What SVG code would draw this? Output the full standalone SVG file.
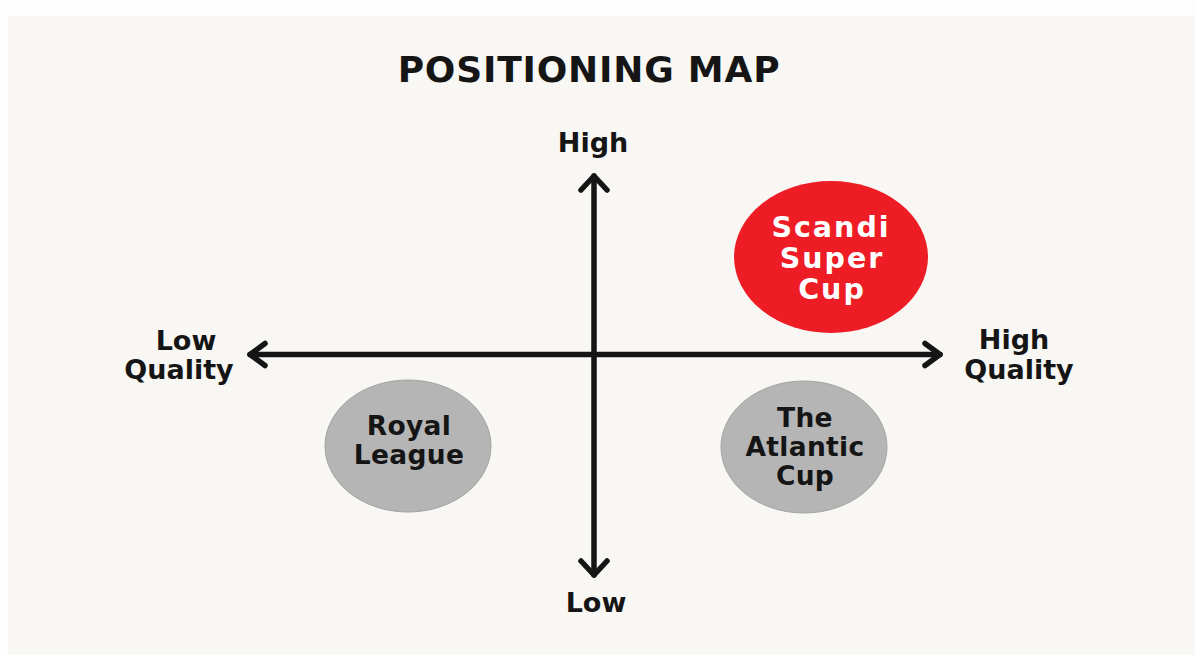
<svg xmlns="http://www.w3.org/2000/svg" width="1195" height="657" viewBox="0 0 1195 657">
<style>
.t{font-family:"DejaVu Sans","Liberation Sans",sans-serif;font-weight:bold;text-anchor:middle;fill:#151515}
.w{fill:#ffffff}
.ax{fill:none;stroke:#151515;stroke-width:5.5;stroke-linecap:round;stroke-linejoin:round}
.gray{fill:#b5b5b5;stroke:#a3a3a3;stroke-width:1}
</style>
<rect x="0" y="0" width="1195" height="657" fill="#fdfdfd"/>
<rect x="8" y="16" width="1187" height="639" fill="#f8f7f4"/>
<g id="title"><text class="t" x="589" y="82" font-size="36" letter-spacing="0.8">POSITIONING MAP</text></g>
<g id="connectors">
<path class="ax" d="M250 354.5 H940 M594 176 V575"/>
<path class="ax" d="M265 343.5 L250 354.5 L265 365.5"/>
<path class="ax" d="M925 343.5 L940 354.5 L925 365.5"/>
<path class="ax" d="M581 190 L594 176 L607 190"/>
<path class="ax" d="M581 561 L594 575 L607 561"/>
</g>
<g id="label-high"><text class="t" x="593" y="152" font-size="27">High</text></g>
<g id="label-low"><text class="t" x="596" y="612" font-size="27">Low</text></g>
<g id="label-low-quality"><text class="t" font-size="27"><tspan x="186" y="350">Low</tspan><tspan x="179" y="379">Quality</tspan></text></g>
<g id="label-high-quality"><text class="t" font-size="27"><tspan x="1014" y="349">High</tspan><tspan x="1019" y="379">Quality</tspan></text></g>
<g id="scandi-super-cup">
<ellipse cx="831" cy="257" rx="97" ry="76" fill="#ee1c25"/>
<text class="t w" font-size="28.5" letter-spacing="2"><tspan x="831" y="237">Scandi</tspan><tspan x="832" y="268">Super</tspan><tspan x="832" y="299">Cup</tspan></text>
</g>
<g id="royal-league">
<ellipse class="gray" cx="408" cy="446" rx="83" ry="66"/>
<text class="t" font-size="26.5" letter-spacing="0.3"><tspan x="409" y="435">Royal</tspan><tspan x="409" y="464">League</tspan></text>
</g>
<g id="the-atlantic-cup">
<ellipse class="gray" cx="804" cy="447" rx="83" ry="66"/>
<text class="t" font-size="26.5" letter-spacing="0.3"><tspan x="805" y="427">The</tspan><tspan x="805" y="456">Atlantic</tspan><tspan x="805" y="485">Cup</tspan></text>
</g>
</svg>
